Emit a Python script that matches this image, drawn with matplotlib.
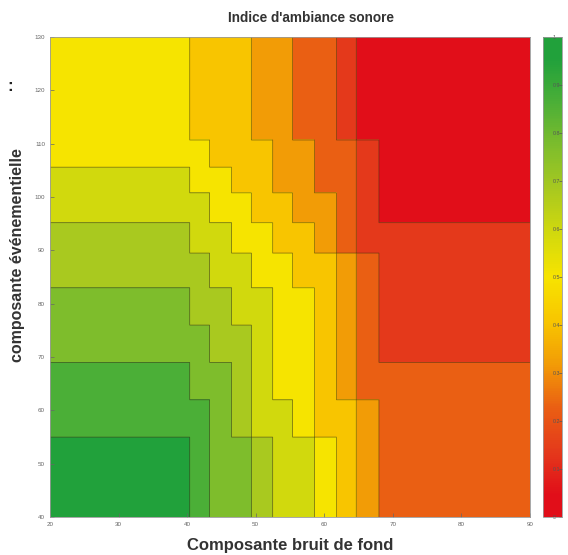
import numpy as np
import matplotlib
matplotlib.use("Agg")
import matplotlib.pyplot as plt
from matplotlib.colors import LinearSegmentedColormap, Normalize
from matplotlib.cm import ScalarMappable

plt.rcParams['font.family'] = ['Liberation Sans', 'DejaVu Sans']

# cell edges of the lookup table (bruit de fond / evenementielle)
x_edges = [20, 40.4, 43.3, 46.5, 49.4, 52.5, 55.4, 58.6, 61.8, 64.7, 68, 90]
y_edges = [130, 110.7, 105.6, 100.8, 95.2, 89.5, 83, 76, 69, 62, 55, 40]

# class of the index in each cell, 0 = worst (red) ... 10 = best (green)
# rows from top (y=130) to bottom (y=40)
bands = [
    [5, 4, 4, 4, 3, 3, 2, 2, 1, 0, 0],
    [5, 5, 4, 4, 4, 3, 3, 2, 2, 1, 0],
    [6, 5, 5, 4, 4, 3, 3, 2, 2, 1, 0],
    [6, 6, 5, 5, 4, 4, 3, 3, 2, 1, 0],
    [7, 6, 6, 5, 5, 4, 4, 3, 2, 1, 1],
    [7, 7, 6, 6, 5, 5, 4, 4, 3, 2, 1],
    [8, 7, 7, 6, 6, 5, 5, 4, 3, 2, 1],
    [8, 8, 7, 7, 6, 5, 5, 4, 3, 2, 1],
    [9, 8, 8, 7, 6, 5, 5, 4, 3, 2, 2],
    [9, 9, 8, 7, 6, 6, 5, 4, 4, 3, 2],
    [10, 9, 8, 8, 7, 6, 6, 5, 4, 3, 2],
]

band_colors = ['#e10e19', '#e43a1b', '#ea5f13', '#f29c06', '#f8c600', '#f7e400',
               '#d2d90d', '#a9c91f', '#7ebd2c', '#4caf37', '#21a13b']

x_ticks = [20, 30, 40, 50, 60, 70, 80, 90]
y_ticks = [40, 50, 60, 70, 80, 90, 100, 110, 120, 130]
cbar_ticks = [0, 0.1, 0.2, 0.3, 0.4, 0.5, 0.6, 0.7, 0.8, 0.9, 1]

nb = len(band_colors)
vals = (np.array(bands) + 0.5) / nb
pos = [0] + [(i + 0.5) / nb for i in range(nb)] + [1]
cols = [band_colors[0]] + band_colors + [band_colors[-1]]
cmap = LinearSegmentedColormap.from_list('ambiance', list(zip(pos, cols)))
norm = Normalize(0, 1)

# fine grid so that contourf keeps the staircase of the table
xf = np.linspace(20, 90, 1401)
yf = np.linspace(40, 130, 1801)
ci = np.clip(np.searchsorted(x_edges, xf, side='right') - 1, 0, nb - 1)
ye = np.array(y_edges[::-1])
ri = np.clip(np.searchsorted(ye, yf, side='right') - 1, 0, len(ye) - 2)
ri = (len(ye) - 2) - ri
Z = vals[ri][:, ci]

fig = plt.figure(figsize=(5.68, 5.55), dpi=100)
ax = fig.add_axes([0.088, 0.0685, 0.845, 0.865])
levels = np.linspace(0, 1, nb + 1)
ax.contourf(xf, yf, Z, levels=levels, cmap=cmap, norm=norm)
ax.contour(xf, yf, Z, levels=levels[1:-1], colors='#3a2a10', linewidths=0.6, alpha=0.55)

ax.set_xlim(20, 90)
ax.set_ylim(40, 130)
ax.set_xticks(x_ticks)
ax.set_yticks(y_ticks)
ax.tick_params(direction='in', labelsize=4.5, colors='#666666', length=3, width=0.5)
for s in ax.spines.values():
    s.set_color('#999999')
    s.set_linewidth(0.6)

fig.text(0.548, 0.968, "Indice d'ambiance sonore", fontsize=9.8, fontweight='bold',
         color='#333333', ha='center', va='center')
ax.set_xlabel('Composante bruit de fond', fontsize=12, fontweight='bold', color='#333333', labelpad=8)
ax.set_ylabel('composante événementielle', fontsize=11.5, fontweight='bold', color='#333333')
ax.yaxis.set_label_coords(-0.053, 0.545)
fig.text(0.018, 0.845, ':', fontsize=12, fontweight='bold', color='#222222', ha='center', va='center')

cax = fig.add_axes([0.956, 0.0685, 0.0335, 0.865])
sm = ScalarMappable(norm=norm, cmap=cmap)
cb = fig.colorbar(sm, cax=cax, ticks=cbar_ticks)
cb.ax.tick_params(direction='in', labelsize=3.8, colors='#555555', length=2, width=0.5, pad=-7)
cb.ax.set_yticklabels([('%g' % t) for t in cbar_ticks])
cb.outline.set_edgecolor('#999999')
cb.outline.set_linewidth(0.6)

fig.savefig('out.png', dpi=100)
